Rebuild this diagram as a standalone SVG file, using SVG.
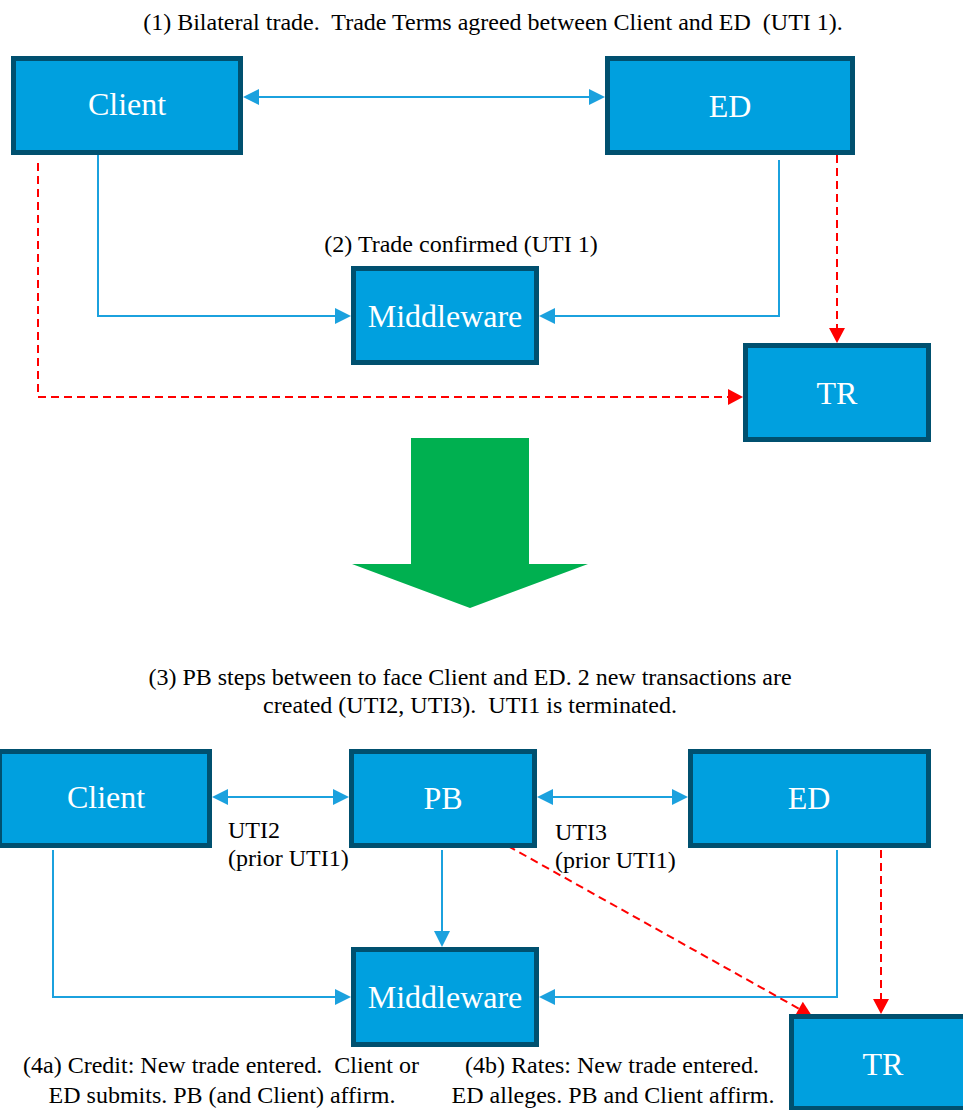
<svg xmlns="http://www.w3.org/2000/svg" width="963" height="1110" viewBox="0 0 963 1110">
<rect width="963" height="1110" fill="#FFFFFF"/>
<text x="493" y="30" font-family="Liberation Serif" font-size="24" text-anchor="middle" fill="#000000" xml:space="preserve">(1) Bilateral trade.  Trade Terms agreed between Client and ED  (UTI 1).</text>
<text x="461" y="252" font-family="Liberation Serif" font-size="24" text-anchor="middle" fill="#000000">(2) Trade confirmed (UTI 1)</text>
<g id="connectors">
<g fill="none" stroke="#1BA1DE" stroke-width="2">
<line x1="259" y1="97" x2="589" y2="97"/>
<polyline points="98,155 98,316 335,316"/>
<polyline points="779,160 779,316 555,316"/>
<line x1="228" y1="797" x2="333" y2="797"/>
<line x1="553" y1="797" x2="672" y2="797"/>
<polyline points="53,850 53,997 335,997"/>
<line x1="442" y1="850" x2="442" y2="931"/>
<polyline points="837,850 837,997 555,997"/>
</g>
<g fill="#1BA1DE">
<polygon points="243,97 259,89 259,105"/>
<polygon points="605,97 589,89 589,105"/>
<polygon points="351,316 335,308 335,324"/>
<polygon points="539,316 555,308 555,324"/>
<polygon points="212,797 228,789 228,805"/>
<polygon points="349,797 333,789 333,805"/>
<polygon points="537,797 553,789 553,805"/>
<polygon points="688,797 672,789 672,805"/>
<polygon points="351,997 335,989 335,1005"/>
<polygon points="442,947 434,931 450,931"/>
<polygon points="539,997 555,989 555,1005"/>
</g>
<g fill="none" stroke="#FF0000" stroke-width="2" stroke-dasharray="8 5">
<polyline points="38,163 38,397 728,397"/>
<line x1="837" y1="155" x2="837" y2="328"/>
<line x1="508" y1="846" x2="799" y2="1008.7"/>
<line x1="881" y1="850" x2="881" y2="999"/>
</g>
<g fill="#FF0000">
<polygon points="743,397 728,389 728,405"/>
<polygon points="837,343 829,328 845,328"/>
<polygon points="812,1016 795,1015.7 802.8,1001.7"/>
<polygon points="881,1014 873,999 889,999"/>
</g>
</g>
<g id="nodes">
<g id="client1"><rect x="13.5" y="58.5" width="227" height="94" fill="#00A0DF" stroke="#00506F" stroke-width="5"/><text x="127" y="115" font-family="Liberation Serif" font-size="32" text-anchor="middle" fill="#FFFFFF">Client</text></g>
<g id="ed1"><rect x="607.5" y="58.5" width="245" height="94" fill="#00A0DF" stroke="#00506F" stroke-width="5"/><text x="730" y="117" font-family="Liberation Serif" font-size="32" text-anchor="middle" fill="#FFFFFF">ED</text></g>
<g id="middleware1"><rect x="353.5" y="268.5" width="183" height="94" fill="#00A0DF" stroke="#00506F" stroke-width="5"/><text x="445" y="327" font-family="Liberation Serif" font-size="32" text-anchor="middle" fill="#FFFFFF">Middleware</text></g>
<g id="tr1"><rect x="745.5" y="345.5" width="183" height="94" fill="#00A0DF" stroke="#00506F" stroke-width="5"/><text x="837" y="404" font-family="Liberation Serif" font-size="32" text-anchor="middle" fill="#FFFFFF">TR</text></g>
<g id="client2"><rect x="-0.5" y="751.5" width="210" height="94" fill="#00A0DF" stroke="#00506F" stroke-width="5"/><text x="106" y="808" font-family="Liberation Serif" font-size="32" text-anchor="middle" fill="#FFFFFF">Client</text></g>
<g id="pb"><rect x="351.5" y="751.5" width="183" height="94" fill="#00A0DF" stroke="#00506F" stroke-width="5"/><text x="443" y="809" font-family="Liberation Serif" font-size="32" text-anchor="middle" fill="#FFFFFF">PB</text></g>
<g id="ed2"><rect x="690.5" y="751.5" width="238" height="94" fill="#00A0DF" stroke="#00506F" stroke-width="5"/><text x="809" y="809" font-family="Liberation Serif" font-size="32" text-anchor="middle" fill="#FFFFFF">ED</text></g>
<g id="middleware2"><rect x="353.5" y="949.5" width="183" height="95" fill="#00A0DF" stroke="#00506F" stroke-width="5"/><text x="445" y="1008" font-family="Liberation Serif" font-size="32" text-anchor="middle" fill="#FFFFFF">Middleware</text></g>
<g id="tr2"><rect x="791.5" y="1016.5" width="183" height="92" fill="#00A0DF" stroke="#00506F" stroke-width="5"/><text x="883" y="1075" font-family="Liberation Serif" font-size="32" text-anchor="middle" fill="#FFFFFF">TR</text></g>
</g>
<polygon id="arrow" points="411,438 529,438 529,564 588,564 470,608 352,564 411,564" fill="#00B050"/>
<text x="470" y="685" font-family="Liberation Serif" font-size="24" text-anchor="middle" fill="#000000">(3) PB steps between to face Client and ED. 2 new transactions are</text>
<text x="470" y="713" font-family="Liberation Serif" font-size="24" text-anchor="middle" fill="#000000" xml:space="preserve">created (UTI2, UTI3).  UTI1 is terminated.</text>
<text x="228" y="838" font-family="Liberation Serif" font-size="24" fill="#000000">UTI2</text>
<text x="228" y="866" font-family="Liberation Serif" font-size="24" fill="#000000">(prior UTI1)</text>
<text x="555" y="840" font-family="Liberation Serif" font-size="24" fill="#000000">UTI3</text>
<text x="555" y="868" font-family="Liberation Serif" font-size="24" fill="#000000">(prior UTI1)</text>
<text x="221" y="1073" font-family="Liberation Serif" font-size="24" text-anchor="middle" fill="#000000" xml:space="preserve">(4a) Credit: New trade entered.  Client or</text>
<text x="222" y="1103" font-family="Liberation Serif" font-size="24" text-anchor="middle" fill="#000000">ED submits. PB (and Client) affirm.</text>
<text x="612" y="1073" font-family="Liberation Serif" font-size="24" text-anchor="middle" fill="#000000">(4b) Rates: New trade entered.</text>
<text x="613" y="1103" font-family="Liberation Serif" font-size="24" text-anchor="middle" fill="#000000">ED alleges. PB and Client affirm.</text>
</svg>
